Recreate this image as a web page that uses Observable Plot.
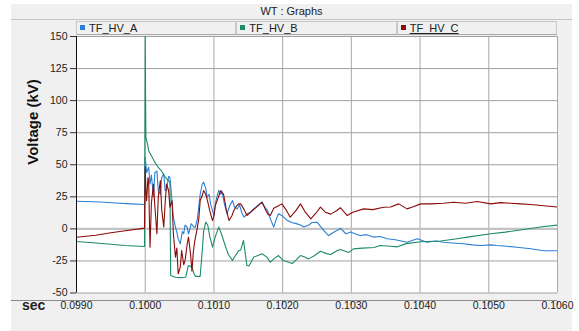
<!DOCTYPE html>
<html>
<head>
<meta charset="utf-8">
<script src="https://cdn.jsdelivr.net/npm/d3@7"></script>
<script src="https://cdn.jsdelivr.net/npm/@observablehq/plot@0.6"></script>
<style>
  html, body { margin: 0; padding: 0; background: #ffffff; }
  #wrap { position: relative; width: 579px; height: 331px; overflow: hidden;
          font-family: "Liberation Sans", Arial, sans-serif; color: #222; }
  #panel { position: absolute; left: 11px; top: 4px; width: 561px; height: 327px; background: #f0f0f0; }
  #title { position: absolute; left: 11px; top: 4px; width: 561px; height: 15px; line-height: 15px;
           text-align: center; font-size: 11px; border-bottom: 1px solid #c4c4c4; }
  #chart { position: absolute; left: 0; top: 0; }
  #legend { position: absolute; left: 76px; top: 21px; width: 481px; height: 14px; display: flex; z-index: 2; }
  .cell { flex: 1; box-sizing: border-box; height: 14px; background: #f0f0f0;
          border: 1px solid #c8c8c8; border-bottom-color: #a8a8a8; font-size: 11px; line-height: 12px;
          padding-left: 3px; white-space: nowrap; }
  .sw { display: inline-block; width: 5px; height: 5px; margin-right: 4px; vertical-align: 2px; }
  .focus { text-decoration: underline; }
  #xline { position: absolute; left: 11px; top: 300px; width: 546px; height: 1px; background: #8a8a8a; }
  #sec { position: absolute; left: 22px; top: 297px; font-size: 14px; font-weight: bold; }
</style>
</head>
<body>
<div id="wrap">
  <div id="panel"></div>
  <div id="title"></div>
  <div id="chart"></div>
  <div id="xline"></div>
  <div id="sec">sec</div>
  <div id="legend"></div>
</div>
<script>
// Phase voltages of the transformer HV side, [time (s), voltage (kV)]
const tfHvA = [
  [0.09900, 21.5], [0.09935, 21], [0.09957, 20.2], [0.09979, 19.5], [0.09999, 19],
  [0.10000, 56], [0.10002, 44], [0.10005, 48], [0.10007, 35], [0.10009, 42],
  [0.10012, 25], [0.10014, 44], [0.10017, 45], [0.10019, 30], [0.10022, 27],
  [0.10024, 40], [0.10027, 43], [0.10029, 30], [0.10031, 30], [0.10034, 41],
  [0.10036, 40], [0.10038, 28], [0.10041, 9], [0.10044, 1.4], [0.10046, -2.5],
  [0.10048, -8], [0.10051, -11.6], [0.10054, -2], [0.10056, -3.8], [0.10058, 3],
  [0.10061, 1.4], [0.10063, -4], [0.10067, 4], [0.10071, 1.4], [0.10073, 1.4],
  [0.10076, 8], [0.10080, 27], [0.10083, 35], [0.10085, 36.4], [0.10088, 32],
  [0.10090, 24.7], [0.10093, 27], [0.10095, 19.5], [0.10097, 16], [0.10100, 10.4],
  [0.10103, 22], [0.10107, 30], [0.10110, 27], [0.10112, 29], [0.10115, 20],
  [0.10119, 11.8], [0.10123, 18], [0.10127, 22.1], [0.10130, 17], [0.10134, 15.6],
  [0.10137, 19], [0.10141, 12], [0.10144, 9.1], [0.10149, 12], [0.10153, 13],
  [0.10158, 15.6], [0.10163, 18], [0.10170, 20.8], [0.10174, 17], [0.10178, 14.3],
  [0.10182, 8], [0.10187, 1.4], [0.10191, 8], [0.10194, 11.8], [0.10200, 10],
  [0.10207, 6.5], [0.10213, 5], [0.10221, 3.9], [0.10226, 3], [0.10231, 1.4],
  [0.10238, 3], [0.10243, 5], [0.10250, 5.2], [0.10255, 2], [0.10261, -2],
  [0.10267, -5.2], [0.10273, -3], [0.10279, -1.2], [0.10284, 0.5], [0.10292, -3.8],
  [0.10299, -2.5], [0.10306, -4], [0.10313, -5.2], [0.10322, -4.5], [0.10332, -6.4],
  [0.10342, -6], [0.10352, -7.7], [0.10364, -8.5], [0.10381, -10.4], [0.10396, -7.7],
  [0.10410, -10.4], [0.10423, -9.5], [0.10434, -10.4], [0.10447, -11], [0.10463, -11.6],
  [0.10476, -12.5], [0.10488, -13], [0.10503, -12.5], [0.10512, -13], [0.10526, -13.5],
  [0.10541, -14.3], [0.10561, -15.5], [0.10580, -17], [0.10600, -17]
];

const tfHvB = [
  [0.09900, -9.8], [0.09928, -11], [0.09950, -12], [0.09971, -13], [0.09999, -13.7],
  [0.10000, 150], [0.100005, 106], [0.10001, 71], [0.10003, 67], [0.10005, 61],
  [0.10009, 57], [0.10015, 51], [0.10019, 48], [0.10024, 45], [0.10029, 40.5],
  [0.10032, 38.5], [0.10036, 36.4], [0.10037, -36.4], [0.10044, -37.7], [0.10051, -38],
  [0.10059, -37.7], [0.10062, -30], [0.10063, -28.6], [0.10068, -30], [0.10071, -35],
  [0.10073, -37], [0.10080, -37], [0.10083, -17], [0.10085, -2], [0.10088, 5.3],
  [0.10091, 3], [0.10094, -6], [0.10098, -14.3], [0.10102, -6], [0.10107, 1.4],
  [0.10111, -4], [0.10117, -14], [0.10121, -20], [0.10127, -24.7], [0.10131, -21],
  [0.10136, -17], [0.10139, -16.5], [0.10143, -9], [0.10148, -28.6], [0.10151, -29],
  [0.10158, -22], [0.10163, -21], [0.10170, -19.4], [0.10177, -22], [0.10182, -26],
  [0.10188, -23], [0.10194, -20.8], [0.10201, -24.7], [0.10214, -27], [0.10220, -24],
  [0.10226, -20.8], [0.10232, -22], [0.10238, -23.4], [0.10246, -21], [0.10255, -17.5],
  [0.10265, -19.5], [0.10270, -20], [0.10279, -17], [0.10284, -16], [0.10296, -18.5],
  [0.10303, -15.6], [0.10316, -15], [0.10333, -14.5], [0.10342, -13], [0.10357, -13.5],
  [0.10367, -14], [0.10380, -11.5], [0.10401, -10], [0.10430, -9.5], [0.10454, -7.7],
  [0.10469, -6.4], [0.10503, -3.8], [0.10524, -2.5], [0.10551, -0.5], [0.10575, 1.5],
  [0.10600, 3]
];

const tfHvC = [
  [0.09900, -6.5], [0.09928, -5], [0.09950, -3], [0.09971, -1.5], [0.09999, 0.6],
  [0.10000, 48], [0.10001, 30], [0.10002, 22], [0.10004, 40], [0.10005, 37.7],
  [0.10006, 10], [0.10007, -14.3], [0.10009, 20], [0.10012, 35], [0.10014, 18],
  [0.10017, -3.8], [0.10019, 25], [0.10022, 37.7], [0.10024, 15], [0.10027, 1.4],
  [0.10029, 20], [0.10031, 35], [0.10034, 30], [0.10036, 16.9], [0.10039, 22],
  [0.10041, -3.8], [0.10044, -22], [0.10046, -15], [0.10048, -35], [0.10051, -30],
  [0.10053, -16.9], [0.10056, -28], [0.10058, -24.7], [0.10061, -12], [0.10063, -6.4],
  [0.10066, -20], [0.10068, -33], [0.10070, -18], [0.10072, -10], [0.10076, 1.4],
  [0.10078, 8], [0.10080, 22.1], [0.10083, 26], [0.10085, 29.9], [0.10088, 27],
  [0.10090, 23.4], [0.10094, 14], [0.10098, 6.5], [0.10100, 10], [0.10102, 18.2],
  [0.10106, 24], [0.10110, 29.9], [0.10112, 28], [0.10114, 27], [0.10118, 15],
  [0.10122, 6.5], [0.10126, 10], [0.10129, 14.3], [0.10133, 18], [0.10136, 19.5],
  [0.10139, 19.5], [0.10144, 15], [0.10148, 10.4], [0.10156, 14.3], [0.10162, 17],
  [0.10170, 20.8], [0.10178, 11.8], [0.10182, 10.4], [0.10187, 16], [0.10194, 18],
  [0.10199, 19.5], [0.10206, 14], [0.10211, 9.1], [0.10219, 14], [0.10226, 19.5],
  [0.10233, 13], [0.10241, 7.8], [0.10248, 12], [0.10255, 16.9], [0.10262, 13],
  [0.10270, 11.5], [0.10279, 14.3], [0.10284, 16.5], [0.10294, 10.4], [0.10302, 13],
  [0.10318, 15.6], [0.10331, 15], [0.10347, 16.9], [0.10357, 17], [0.10369, 19.5],
  [0.10381, 15.6], [0.10389, 17], [0.10401, 19.5], [0.10415, 19.5], [0.10434, 20],
  [0.10449, 20.8], [0.10466, 20], [0.10483, 21.3], [0.10503, 19.5], [0.10517, 20.5],
  [0.10532, 20], [0.10546, 19.5], [0.10561, 19], [0.10580, 18], [0.10600, 17]
];

const seriesNames = ["TF_HV_A", "TF_HV_B", "TF_HV_C"];
const seriesColors = ["#2b7fd6", "#1e8a6c", "#8b0a0a"];
const xTicks = [0.099, 0.100, 0.101, 0.102, 0.103, 0.104, 0.105, 0.106];
const yTicks = [-50, -25, 0, 25, 50, 75, 100, 125, 150];
const titleText = "WT : Graphs";
const yLabel = "Voltage (kV)";

document.getElementById("title").textContent = titleText;

// legend strip across the top of the plot area
const legend = document.getElementById("legend");
seriesNames.forEach((name, i) => {
  const cell = document.createElement("div");
  cell.className = "cell";
  const sw = document.createElement("span");
  sw.className = "sw";
  sw.style.background = seriesColors[i];
  const label = document.createElement("span");
  label.textContent = name;
  if (i === seriesNames.length - 1) label.className = "focus";
  cell.appendChild(sw);
  cell.appendChild(label);
  legend.appendChild(cell);
});

// short downward tick drawn as a plain stroke
const tickShape = { draw(context, l) { context.moveTo(0, 0); context.lineTo(0, -l); } };

const fontFamily = '"Liberation Sans", Arial, sans-serif';
const series = [tfHvA, tfHvB, tfHvC];

const chart = Plot.plot({
  width: 579,
  height: 331,
  marginLeft: 76,
  marginRight: 22,
  marginTop: 36,
  marginBottom: 38.5,
  style: { background: "transparent", fontFamily, fontSize: "10.5px", color: "#222" },
  x: { domain: [0.099, 0.106], axis: null },
  y: { domain: [-50, 150], axis: null },
  marks: [
    Plot.frame({ fill: "white", stroke: "none" }),
    Plot.gridX(xTicks.slice(1), { stroke: "#a8a8a8", strokeOpacity: 1, strokeWidth: 1 }),
    Plot.gridY(yTicks.filter(d => d !== 0), { stroke: "#a0a0a0", strokeOpacity: 1, strokeWidth: 1 }),
    Plot.ruleY([0], { stroke: "#c4c4c4", strokeWidth: 2.2 }),
    ...series.map((data, i) => Plot.line(data, {
      x: d => d[0], y: d => d[1],
      stroke: seriesColors[i], strokeWidth: 1.1, clip: true
    })),
    Plot.ruleX([xTicks[0]], { stroke: "#111", strokeWidth: 1 }),
    Plot.axisY(yTicks, {
      tickSize: 6, tickPadding: 3, label: null, stroke: "#333",
      tickFormat: d => String(d), fontSize: 10.5, fill: "#222"
    }),
    Plot.vector(xTicks, {
      x: d => d, frameAnchor: "bottom", dy: 8.5, length: 3, rotate: 180,
      anchor: "start", shape: tickShape, stroke: "#555", strokeWidth: 1
    }),
    Plot.text(xTicks, {
      x: d => d, text: d => d.toFixed(4), frameAnchor: "bottom", dy: 15.5,
      fontSize: 10.5, fill: "#222"
    }),
    Plot.text([yLabel], {
      frameAnchor: "left", rotate: -90, dx: -43.5,
      fontSize: 15, fontWeight: "bold", fill: "#111"
    })
  ]
});

document.getElementById("chart").appendChild(chart);
</script>
</body>
</html>
